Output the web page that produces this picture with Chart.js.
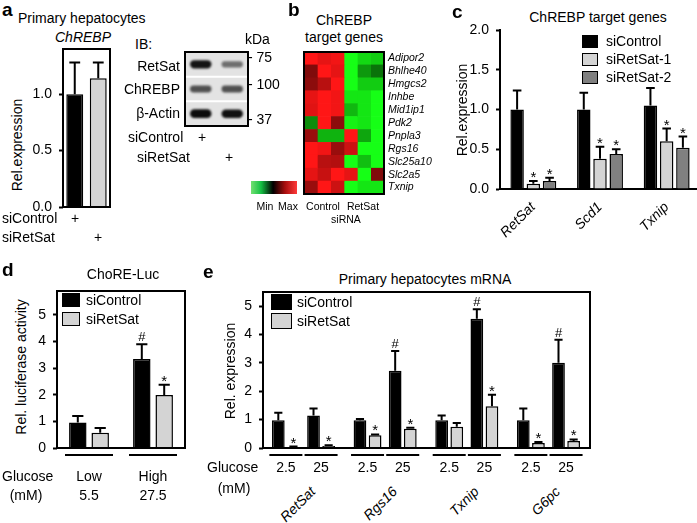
<!DOCTYPE html>
<html>
<head>
<meta charset="utf-8">
<title>RetSat / ChREBP target genes</title>
<script src="https://cdn.jsdelivr.net/npm/chart.js@4.4.1/dist/chart.umd.min.js"></script>
<style>
  html, body { margin: 0; padding: 0; background: #fff; }
  body { position: relative; width: 697px; height: 523px; overflow: hidden; font-family: "Liberation Sans", Arial, Helvetica, sans-serif; color: #000; }
  canvas { position: absolute; }
  .t { position: absolute; white-space: nowrap; line-height: 1; }
  .key { position: absolute; box-sizing: border-box; border: 1.5px solid #000; }
  .slant { position: absolute; width: 0; height: 0; }
  .slant span { position: absolute; right: 0; top: 0; transform-origin: 100% 0; transform: rotate(-45deg); font-style: italic; font-size: 14px; line-height: 1; white-space: nowrap; }
  .cbar { position: absolute; background: linear-gradient(to right, #72e072 0%, #14c043 22%, #000 48%, #a80e0e 74%, #ff3a3a 100%); }
</style>
</head>
<body>
<script>
const FONT = '"Liberation Sans", Arial, Helvetica, sans-serif';
Chart.defaults.font.family = FONT;
Chart.defaults.font.size = 14;
Chart.defaults.color = '#000';
Chart.defaults.animation = false;
Chart.defaults.plugins.legend.display = false;
Chart.defaults.plugins.tooltip.enabled = false;

const BLACK = '#000000', LIGHT = '#d4d4d4', DARK = '#808080';

// ---- a: ChREBP mRNA in primary hepatocytes
const aGroups = ['siControl', 'siRetSat'];
const aValues = [1.0, 1.14];
const aErrors = [0.28, 0.14];
const aTicks = [0, 0.5, 1.0];

// ---- a: immunoblot (band strength 0..1 per lane)
const blotRows = ['RetSat', 'ChREBP', 'β-Actin'];
const blotLanes = ['siControl', 'siRetSat'];
const blotRetSat = [0.9, 0.45];
const blotChREBP = [0.6, 0.6];
const blotActin = [0.95, 0.92];
const blotKda = ['75', '100', '37'];

// ---- b: heatmap, -1 = min (green) .. 1 = max (red)
const heatGenes = ['Adipor2', 'Bhlhe40', 'Hmgcs2', 'Inhbe', 'Mid1ip1', 'Pdk2', 'Pnpla3', 'Rgs16', 'Slc25a10', 'Slc2a5', 'Txnip'];
const heatCtrl1 = [1.0, 0.5, 0.55, 0.9, 0.88, -0.55, 0.6, 1.0, 1.0, 0.9, 0.6];
const heatCtrl2 = [0.9, 1.0, 0.72, 1.0, 1.0, 1.0, -0.7, 0.95, 0.72, 0.78, 1.0];
const heatCtrl3 = [0.95, 0.9, 1.0, 0.95, 0.95, 0.55, -0.7, 0.6, 0.7, 1.0, 0.8];
const heatRet1 = [-1.0, -1.0, -1.0, -0.9, -0.72, -0.95, 1.0, 0.8, -1.0, 0.9, -1.0];
const heatRet2 = [-0.85, -0.6, -0.8, -0.9, -0.9, -0.9, -0.65, -1.0, -0.75, -1.0, -0.9];
const heatRet3 = [-0.8, -0.45, -0.8, -1.0, -1.0, -1.0, -1.0, -1.0, -1.0, 0.5, -0.9];

// ---- c: ChREBP target genes
const cGenes = ['RetSat', 'Scd1', 'Txnip'];
const cControl = [1.0, 1.0, 1.05];
const cControlErr = [0.24, 0.21, 0.22];
const cRetSat1 = [0.065, 0.38, 0.6];
const cRetSat1Err = [0.035, 0.15, 0.16];
const cRetSat1Marks = ['*', '*', '*'];
const cRetSat2 = [0.1, 0.44, 0.52];
const cRetSat2Err = [0.04, 0.06, 0.14];
const cRetSat2Marks = ['*', '*', '*'];
const cTicks = [0, 0.5, 1.0, 1.5, 2.0];

// ---- d: ChoRE-Luc
const dGlucose = ['Low', 'High'];
const dGlucoseMM = ['5.5', '27.5'];
const dControl = [0.96, 3.34];
const dControlErr = [0.24, 0.56];
const dControlMarks = ['', '#'];
const dRetSat = [0.57, 1.99];
const dRetSatErr = [0.18, 0.39];
const dRetSatMarks = ['', '*'];
const dTicks = [0, 1, 2, 3, 4, 5];

// ---- e: primary hepatocytes mRNA (gene x glucose 2.5 / 25)
const eGenes = ['RetSat', 'Rgs16', 'Txnip', 'G6pc'];
const eGlucose = ['2.5', '25'];
const eControl = [0.98, 1.15, 0.98, 2.72, 0.98, 4.56, 0.98, 3.01];
const eControlErr = [0.26, 0.24, 0.04, 0.70, 0.17, 0.33, 0.41, 0.81];
const eControlMarks = ['', '', '', '#', '', '#', '', '#'];
const eRetSat = [0.03, 0.07, 0.45, 0.68, 0.75, 1.47, 0.18, 0.25];
const eRetSatErr = [0.02, 0.03, 0.03, 0.03, 0.13, 0.41, 0.03, 0.05];
const eRetSatMarks = ['*', '*', '*', '*', '', '*', '*', '*'];
const eTicks = [0, 1, 2, 3, 4, 5];

// ---------- helpers
function txt(s, x, y, o = {}) {
  const d = document.createElement('div');
  d.className = 't';
  d.textContent = s;
  d.style.fontSize = (o.size || 14) + 'px';
  if (o.bold) d.style.fontWeight = 'bold';
  if (o.italic) d.style.fontStyle = 'italic';
  d.style.left = x + 'px';
  d.style.top = y + 'px';
  const ax = o.align === 'right' ? '-100%' : o.align === 'left' ? '0' : '-50%';
  d.style.transform = o.rot ? 'translate(-50%,-50%) rotate(-90deg)' : `translate(${ax},-50%)`;
  document.body.appendChild(d);
}

function slant(s, x, y) {
  const w = document.createElement('div');
  w.className = 'slant';
  w.style.left = x + 'px';
  w.style.top = y + 'px';
  const sp = document.createElement('span');
  sp.textContent = s;
  w.appendChild(sp);
  document.body.appendChild(w);
}

function key(x, y, w, h, color) {
  const d = document.createElement('div');
  d.className = 'key';
  Object.assign(d.style, { left: x + 'px', top: y + 'px', width: w + 'px', height: h + 'px', background: color });
  document.body.appendChild(d);
}

function canvasAt(box) {
  const c = document.createElement('canvas');
  c.width = box.w;
  c.height = box.h;
  c.style.left = box.l + 'px';
  c.style.top = box.t + 'px';
  document.body.appendChild(c);
  return c;
}

// canvas box + wanted plot area -> padding and axis sizes
function fit(box, area) {
  return {
    padding: { left: 0, top: area.t - box.t, right: box.l + box.w - area.r, bottom: 0 },
    yW: area.l - box.l,
    xH: box.t + box.h - area.b
  };
}

function yAxis(ticks, max, width, digits) {
  return {
    min: 0,
    max: max,
    afterBuildTicks: s => { s.ticks = ticks.map(v => ({ value: v })); },
    afterFit: s => { s.width = width; },
    ticks: { padding: 7, callback: v => v.toFixed(digits) },
    grid: { drawOnChartArea: false, tickLength: 4, tickWidth: 2, tickColor: BLACK },
    border: { display: false }
  };
}

function xHidden(h) {
  return {
    ticks: { display: false },
    grid: { display: false },
    border: { display: false },
    afterFit: s => { s.height = h; }
  };
}

// ---------- plugins
const frame = {
  id: 'frame',
  afterDraw(chart) {
    const { ctx, chartArea: a } = chart;
    ctx.save();
    ctx.lineWidth = 2;
    ctx.strokeStyle = BLACK;
    ctx.strokeRect(a.left, a.top, a.right - a.left, a.bottom - a.top);
    ctx.restore();
  }
};

const errorBars = {
  id: 'errorBars',
  afterDatasetsDraw(chart) {
    const { ctx, scales: { y } } = chart;
    chart.data.datasets.forEach((ds, i) => {
      if (!ds.errors) return;
      chart.getDatasetMeta(i).data.forEach((bar, j) => {
        const d = ds.data[j];
        const v = typeof d === 'object' ? d.y : d;
        const top = y.getPixelForValue(v + ds.errors[j]);
        const half = bar.width * 0.32;
        ctx.save();
        ctx.strokeStyle = BLACK;
        ctx.lineWidth = 2;
        ctx.beginPath();
        ctx.moveTo(bar.x, bar.y);
        ctx.lineTo(bar.x, top);
        ctx.moveTo(bar.x - half, top);
        ctx.lineTo(bar.x + half, top);
        ctx.stroke();
        const m = ds.marks ? ds.marks[j] : '';
        if (m) {
          ctx.fillStyle = BLACK;
          ctx.textAlign = 'center';
          ctx.textBaseline = 'alphabetic';
          ctx.font = (m === '*' ? '15px ' : '13px ') + FONT;
          ctx.fillText(m, bar.x, m === '*' ? top + 1 : top - 3);
        }
        ctx.restore();
      });
    });
  }
};

const underline = {
  id: 'underline',
  afterDraw(chart, args, opts) {
    const { ctx, chartArea, scales: { x } } = chart;
    ctx.save();
    ctx.lineWidth = 2;
    ctx.strokeStyle = BLACK;
    ctx.beginPath();
    opts.at.forEach(v => {
      const c = x.getPixelForValue(v);
      ctx.moveTo(c - opts.half, chartArea.bottom + 7);
      ctx.lineTo(c + opts.half, chartArea.bottom + 7);
    });
    ctx.stroke();
    ctx.restore();
  }
};

const blotFilm = {
  id: 'blotFilm',
  beforeDatasetsDraw(chart) {
    const { ctx, chartArea: a } = chart;
    ctx.fillStyle = '#e3e3e3';
    ctx.fillRect(a.left, a.top, a.right - a.left, a.bottom - a.top);
    ctx.save();
    ctx.filter = 'blur(1.3px)';
  },
  afterDatasetsDraw(chart) {
    const { ctx, chartArea: a, scales: { y } } = chart;
    ctx.restore();
    ctx.save();
    ctx.strokeStyle = '#ffffff';
    ctx.lineWidth = 2;
    ctx.beginPath();
    [1, 2].forEach(r => {
      const py = y.getPixelForValue(r);
      ctx.moveTo(a.left, py);
      ctx.lineTo(a.right, py);
    });
    ctx.stroke();
    ctx.restore();
  }
};

// ================= panel a =================
txt('a', 2, 9, { size: 19, bold: true, align: 'left' });
txt('Primary hepatocytes', 18, 18, { align: 'left' });
txt('ChREBP', 83, 37, { italic: true });
txt('Rel.expression', 17, 145, { rot: true });
{
  const box = { l: 0, t: 30, w: 125, h: 195 };
  const f = fit(box, { l: 63, t: 49, r: 110, b: 207 });
  new Chart(canvasAt(box), {
    type: 'bar',
    data: {
      labels: aGroups,
      datasets: [{
        data: aValues, errors: aErrors,
        backgroundColor: [BLACK, LIGHT], borderColor: BLACK, borderWidth: 1.5,
        categoryPercentage: 1, barPercentage: 0.72
      }]
    },
    options: {
      responsive: false,
      layout: { padding: f.padding },
      scales: { x: xHidden(f.xH), y: yAxis(aTicks, 1.4, f.yW, 1) }
    },
    plugins: [errorBars, frame]
  });
}
txt('siControl', 2, 218, { align: 'left' });
txt('+', 75, 218);
txt('siRetSat', 2, 237, { align: 'left' });
txt('+', 98, 237);

// immunoblot
txt('IB:', 135, 44, { align: 'left' });
const blotSignal = [blotRetSat, blotChREBP, blotActin];
const bandHalf = v => 0.08 + 0.1 * v;
const bandColor = v => { const g = Math.round(200 * (1 - v)); return `rgb(${g},${g},${g})`; };
{
  const box = { l: 172, t: 40, w: 88, h: 100 };
  const area = { l: 185, t: 52, r: 248, b: 126 };
  new Chart(canvasAt(box), {
    type: 'bar',
    data: {
      labels: blotLanes,
      datasets: blotRows.map((name, r) => ({
        label: name,
        data: blotSignal[r].map(v => [r + 0.5 - bandHalf(v), r + 0.5 + bandHalf(v)]),
        backgroundColor: blotSignal[r].map(bandColor),
        borderWidth: 0, borderRadius: 8, borderSkipped: false, grouped: false,
        categoryPercentage: 1, barPercentage: 0.68
      }))
    },
    options: {
      responsive: false,
      layout: { padding: { left: area.l - box.l, top: area.t - box.t, right: box.l + box.w - area.r, bottom: box.t + box.h - area.b } },
      scales: { x: { display: false }, y: { display: false, min: 0, max: 3, reverse: true } }
    },
    plugins: [blotFilm, frame]
  });
}
blotRows.forEach((r, i) => txt(r, 180, [66, 89, 113][i], { align: 'right' }));
txt('kDa', 245, 39, { align: 'left' });
blotKda.forEach((k, i) => txt('- ' + k, 248, [57, 84, 119][i], { align: 'left' }));
txt('siControl', 128, 137, { align: 'left' });
txt('+', 202, 137);
txt('siRetSat', 137, 157, { align: 'left' });
txt('+', 229, 157);

// ================= panel b =================
txt('b', 288, 9, { size: 19, bold: true, align: 'left' });
txt('ChREBP', 344, 20);
txt('target genes', 344, 37);
const heatColumns = [heatCtrl1, heatCtrl2, heatCtrl3, heatRet1, heatRet2, heatRet3];
function heatColor(v) {
  const a = Math.min(1, Math.abs(v));
  const hi = Math.round(255 * a), lo = Math.round(22 * a);
  return v >= 0 ? `rgb(${hi},${lo},${lo})` : `rgb(${lo},${hi},${lo})`;
}
{
  const box = { l: 296, t: 36, w: 150, h: 174 };
  const area = { l: 304, t: 52, r: 384, b: 194 };
  new Chart(canvasAt(box), {
    type: 'bar',
    data: {
      labels: heatGenes,
      datasets: heatColumns.map(col => ({
        data: heatGenes.map(() => 1),
        backgroundColor: col.map(heatColor),
        borderWidth: 0, categoryPercentage: 1, barPercentage: 1
      }))
    },
    options: {
      indexAxis: 'y',
      responsive: false,
      layout: { padding: { left: area.l - box.l, top: area.t - box.t, right: 0, bottom: box.t + box.h - area.b } },
      scales: {
        x: { display: false, stacked: true, min: 0, max: heatColumns.length },
        y: {
          position: 'right', stacked: true,
          grid: { display: false, drawTicks: false }, border: { display: false },
          ticks: { font: { size: 10.5, style: 'italic' }, padding: 4, autoSkip: false },
          afterFit: s => { s.width = box.l + box.w - area.r; }
        }
      }
    },
    plugins: [frame]
  });
}
{
  const cb = document.createElement('div');
  cb.className = 'cbar';
  Object.assign(cb.style, { left: '251px', top: '181px', width: '46px', height: '13px' });
  document.body.appendChild(cb);
}
txt('Min', 265, 206, { size: 10.5 });
txt('Max', 288, 206, { size: 10.5 });
txt('Control', 323, 206, { size: 10.5 });
txt('RetSat', 363, 206, { size: 10.5 });
txt('siRNA', 346, 219, { size: 10.5 });

// ================= panel c =================
txt('c', 452, 11, { size: 19, bold: true, align: 'left' });
txt('ChREBP target genes', 598, 17);
txt('Rel.expression', 462, 110, { rot: true });
{
  const box = { l: 440, t: 14, w: 270, h: 246 };
  const f = fit(box, { l: 500, t: 30, r: 700, b: 189 });
  const set = (data, errors, marks, color) => ({
    data, errors, marks,
    backgroundColor: color, borderColor: BLACK, borderWidth: 1.5,
    categoryPercentage: 0.73, barPercentage: 0.83
  });
  new Chart(canvasAt(box), {
    type: 'bar',
    data: {
      labels: cGenes,
      datasets: [
        set(cControl, cControlErr, null, BLACK),
        set(cRetSat1, cRetSat1Err, cRetSat1Marks, LIGHT),
        set(cRetSat2, cRetSat2Err, cRetSat2Marks, DARK)
      ]
    },
    options: {
      responsive: false,
      layout: { padding: f.padding },
      scales: {
        x: {
          grid: { display: false },
          border: { display: true, width: 2, color: BLACK },
          ticks: { font: { size: 14, style: 'italic' }, minRotation: 45, maxRotation: 45, padding: 2 },
          afterFit: s => { s.height = f.xH; }
        },
        y: Object.assign(yAxis(cTicks, 2.0, f.yW, 1), { border: { display: true, width: 2, color: BLACK } })
      }
    },
    plugins: [errorBars]
  });
}
key(582, 35, 16, 13, BLACK);
key(582, 53, 16, 13, LIGHT);
key(582, 71, 16, 13, DARK);
txt('siControl', 606, 41, { align: 'left' });
txt('siRetSat-1', 606, 59, { align: 'left' });
txt('siRetSat-2', 606, 77, { align: 'left' });

// ================= panel d =================
txt('d', 2, 269, { size: 19, bold: true, align: 'left' });
txt('ChoRE-Luc', 123, 274);
txt('Rel. luciferase activity', 21, 367, { rot: true });
{
  const box = { l: 0, t: 274, w: 200, h: 192 };
  const f = fit(box, { l: 57, t: 291, r: 185, b: 448 });
  const set = (data, errors, marks, color) => ({
    data, errors, marks,
    backgroundColor: color, borderColor: BLACK, borderWidth: 1.5,
    categoryPercentage: 0.7, barPercentage: 0.78
  });
  const chart = new Chart(canvasAt(box), {
    type: 'bar',
    data: {
      labels: dGlucose,
      datasets: [set(dControl, dControlErr, dControlMarks, BLACK), set(dRetSat, dRetSatErr, dRetSatMarks, LIGHT)]
    },
    options: {
      responsive: false,
      layout: { padding: f.padding },
      plugins: { underline: { at: dGlucose.map((g, i) => i), half: 24 } },
      scales: { x: xHidden(f.xH), y: yAxis(dTicks, 5.9, f.yW, 0) }
    },
    plugins: [errorBars, frame, underline]
  });
  const x = chart.scales.x;
  dGlucose.forEach((g, i) => {
    const cx = box.l + x.getPixelForValue(i);
    txt(g, cx, 476);
    txt(dGlucoseMM[i], cx, 495);
  });
}
key(62, 293, 18, 14, BLACK);
key(62, 312, 18, 14, LIGHT);
txt('siControl', 86, 300, { align: 'left' });
txt('siRetSat', 86, 319, { align: 'left' });
txt('Glucose', 2, 476, { align: 'left' });
txt('(mM)', 26, 495);

// ================= panel e =================
txt('e', 203, 271, { size: 19, bold: true, align: 'left' });
txt('Primary hepatocytes mRNA', 425, 279);
txt('Rel. expression', 230, 371, { rot: true });
const GENE_STRIDE = 2.32; // glucose pairs sit 1 apart, genes a bit further
const ePos = eGenes.flatMap((g, gi) => eGlucose.map((c, j) => gi * GENE_STRIDE + j));
{
  const box = { l: 200, t: 275, w: 410, h: 191 };
  const f = fit(box, { l: 263, t: 292, r: 590, b: 448 });
  const set = (vals, errors, marks, color) => ({
    data: vals.map((v, i) => ({ x: ePos[i], y: v })),
    errors, marks,
    backgroundColor: color, borderColor: BLACK, borderWidth: 1.5,
    categoryPercentage: 0.86, barPercentage: 0.84
  });
  const chart = new Chart(canvasAt(box), {
    type: 'bar',
    data: { datasets: [set(eControl, eControlErr, eControlMarks, BLACK), set(eRetSat, eRetSatErr, eRetSatMarks, LIGHT)] },
    options: {
      responsive: false,
      layout: { padding: f.padding },
      plugins: { underline: { at: ePos, half: 16.5 } },
      scales: {
        x: Object.assign(xHidden(f.xH), {
          type: 'linear', min: -0.65, max: 8.64, offset: false,
          afterBuildTicks: s => { s.ticks = ePos.map(v => ({ value: v })); }
        }),
        y: yAxis(eTicks, 5.5, f.yW, 0)
      }
    },
    plugins: [errorBars, frame, underline]
  });
  const x = chart.scales.x;
  ePos.forEach((p, i) => txt(eGlucose[i % eGlucose.length], box.l + x.getPixelForValue(p), 467));
  eGenes.forEach((g, gi) => {
    const c = box.l + (x.getPixelForValue(gi * GENE_STRIDE) + x.getPixelForValue(gi * GENE_STRIDE + 1)) / 2;
    slant(g, c + 4, 484);
  });
}
key(271, 294, 21, 16, BLACK);
key(271, 313, 21, 16, LIGHT);
txt('siControl', 297, 302, { align: 'left' });
txt('siRetSat', 297, 321, { align: 'left' });
txt('Glucose', 207, 467, { align: 'left' });
txt('(mM)', 234, 488);
</script>
</body>
</html>
